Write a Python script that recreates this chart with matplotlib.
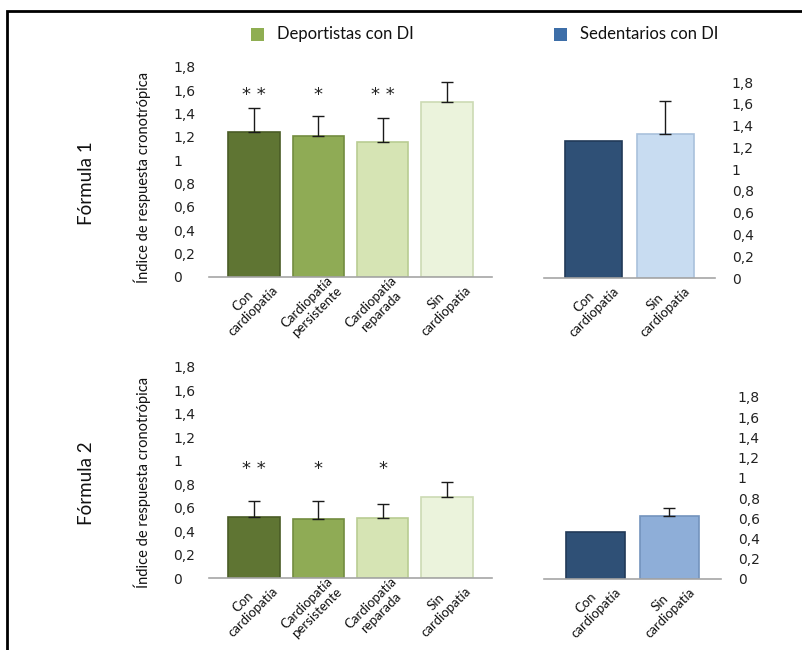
import matplotlib
matplotlib.use('Agg')
import matplotlib.pyplot as plt
from matplotlib.patches import Rectangle

# data
dep_labels = ['Con\ncardiopatía', 'Cardiopatía\npersistente', 'Cardiopatía\nreparada', 'Sin\ncardiopatía']
sed_labels = ['Con\ncardiopatía', 'Sin\ncardiopatía']

f1_dep = [1.24, 1.21, 1.16, 1.50]
f1_dep_err = [0.21, 0.17, 0.20, 0.17]
f1_dep_sig = ['**', '*', '**', '']
f1_sed = [1.26, 1.32]
f1_sed_err = [0.0, 0.31]

f2_dep = [0.52, 0.50, 0.51, 0.69]
f2_dep_err = [0.14, 0.16, 0.12, 0.13]
f2_dep_sig = ['**', '*', '*', '']
f2_sed = [0.46, 0.62]
f2_sed_err = [0.0, 0.08]

yticks = [0, 0.2, 0.4, 0.6, 0.8, 1, 1.2, 1.4, 1.6, 1.8]
ytick_labels = ['0', '0,2', '0,4', '0,6', '0,8', '1', '1,2', '1,4', '1,6', '1,8']

green_colors = ['#5f7533', '#8fab55', '#d6e4b4', '#ebf3dc']
green_edges = ['#4a5c26', '#738c40', '#b9cc92', '#ccdab4']
blue_colors_1 = ['#2f5076', '#c8dcf1']
blue_colors_2 = ['#2f5076', '#8eaed8']
blue_edges_1 = ['#213a58', '#a9c1dc']
blue_edges_2 = ['#213a58', '#7393bd']

TXT = 'Lato'


def draw_panel(ax, values, errors, colors, edges, labels, sig, star_y, right_ticks):
    x = list(range(len(values)))
    ax.bar(x, values, width=0.8, color=colors, edgecolor=edges, linewidth=1.2, zorder=2)
    for i in x:
        if errors[i] > 0:
            ax.errorbar(i, values[i], yerr=[[0], [errors[i]]], fmt='none',
                        ecolor='#1a1a1a', elinewidth=1, capsize=4, capthick=1, zorder=3)
        if sig and sig[i]:
            ax.text(i, star_y, ' '.join(sig[i]) if len(sig[i]) > 1 else sig[i],
                    ha='center', va='center', fontsize=13, fontfamily='DejaVu Sans', color='#222222')
    ax.set_ylim(0, 1.8)
    ax.set_xlim(-0.7, len(values) - 0.3)
    for s in ['top', 'left', 'right']:
        ax.spines[s].set_visible(False)
    ax.spines['bottom'].set_color('#a6a6a6')
    ax.spines['bottom'].set_linewidth(1.2)
    ax.set_xticks([])
    ax.set_yticks(yticks)
    ax.set_yticklabels(ytick_labels, fontsize=10, color='#222222')
    ax.tick_params(axis='y', length=0)
    if right_ticks:
        ax.yaxis.tick_right()
        ax.tick_params(axis='y', pad=12)
    else:
        ax.tick_params(axis='y', pad=25.5)
    for t in ax.get_yticklabels():
        t.set_ha('left')
    ax.set_facecolor('none')
    for i, lab in enumerate(labels):
        ax.annotate(lab, xy=(i + 0.12, 0), xycoords=('data', 'data'),
                    xytext=(0, 2), textcoords='offset points',
                    rotation=45, rotation_mode='anchor', ha='right', va='top',
                    multialignment='center', fontsize=9.5, fontfamily=TXT, color='#111111',
                    annotation_clip=False)


fig = plt.figure(figsize=(8.02, 6.5), dpi=100)
W, H = 802.0, 650.0


def axes_px(x0, x1, y_zero, y_top):
    return fig.add_axes([x0 / W, (H - y_zero) / H, (x1 - x0) / W, (y_zero - y_top) / H])


ax1 = axes_px(209, 492, 277, 67)
ax2 = axes_px(544, 715, 278, 82)
ax3 = axes_px(209, 492, 578, 367)
ax4 = axes_px(544, 721, 579, 397)

draw_panel(ax1, f1_dep, f1_dep_err, green_colors, green_edges, dep_labels, f1_dep_sig, 1.56, False)
draw_panel(ax2, f1_sed, f1_sed_err, blue_colors_1, blue_edges_1, sed_labels, None, 0, True)
draw_panel(ax3, f2_dep, f2_dep_err, green_colors, green_edges, dep_labels, f2_dep_sig, 0.93, False)
draw_panel(ax4, f2_sed, f2_sed_err, blue_colors_2, blue_edges_2, sed_labels, None, 0, True)

# y labels and row titles
fig.text(142 / W, 1 - 177 / H, 'Índice de respuesta cronotrópica', rotation=90,
         ha='center', va='center', fontsize=10.5, fontfamily=TXT, color='#111111')
fig.text(142 / W, 1 - 482 / H, 'Índice de respuesta cronotrópica', rotation=90,
         ha='center', va='center', fontsize=10.5, fontfamily=TXT, color='#111111')
fig.text(87 / W, 1 - 183 / H, 'Fórmula 1', rotation=90, ha='center', va='center',
         fontsize=13.5, fontfamily=TXT, color='#111111')
fig.text(87 / W, 1 - 483 / H, 'Fórmula 2', rotation=90, ha='center', va='center',
         fontsize=13.5, fontfamily=TXT, color='#111111')

# legend at the top
fig.patches.append(Rectangle((251 / W, 1 - 41 / H), 13 / W, 13 / H, transform=fig.transFigure,
                             facecolor='#8fae52', edgecolor='none'))
fig.text(277 / W, 1 - 34 / H, 'Deportistas con DI', ha='left', va='center',
         fontsize=12, fontfamily=TXT, color='#111111')
fig.patches.append(Rectangle((554 / W, 1 - 41 / H), 13 / W, 13 / H, transform=fig.transFigure,
                             facecolor='#3d6ea8', edgecolor='none'))
fig.text(580 / W, 1 - 34 / H, 'Sedentarios con DI', ha='left', va='center',
         fontsize=12, fontfamily=TXT, color='#111111')

# outer frame
fig.patches.append(Rectangle((7 / W, -0.1), 1.2, 1 - 11 / H + 0.1, transform=fig.transFigure,
                             facecolor='none', edgecolor='black', linewidth=2))

fig.savefig('out.png', dpi=100)
